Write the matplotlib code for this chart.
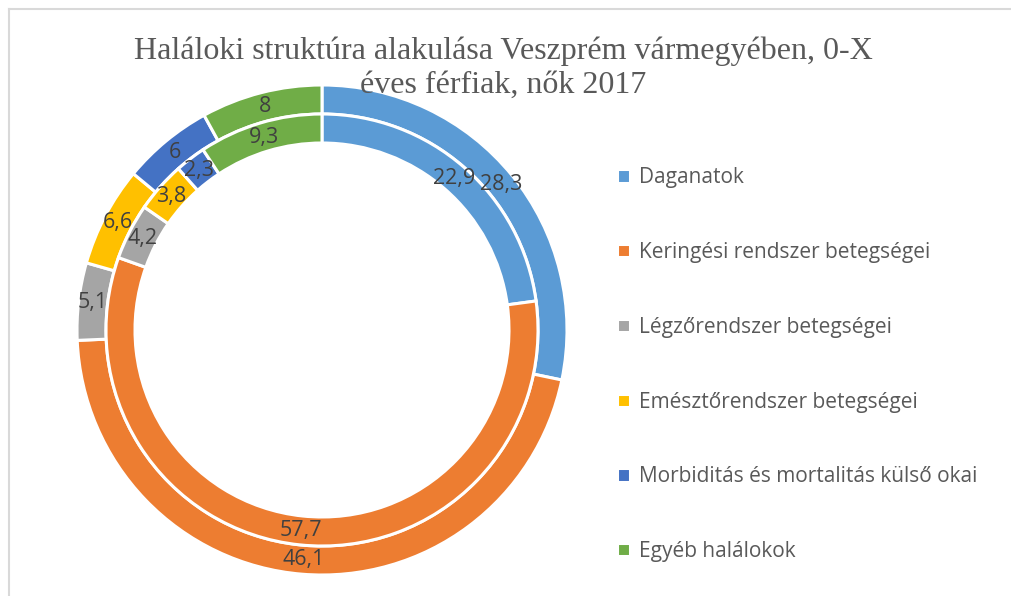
import matplotlib.pyplot as plt
import numpy as np

# data (outer ring and inner ring)
categories = [
    "Daganatok",
    "Keringési rendszer betegségei",
    "Légzőrendszer betegségei",
    "Emésztőrendszer betegségei",
    "Morbiditás és mortalitás külső okai",
    "Egyéb halálokok",
]
outer_values = [28.3, 46.1, 5.1, 6.6, 6.0, 8.0]
inner_values = [22.9, 57.7, 4.2, 3.8, 2.3, 9.3]
colors = ["#5B9BD5", "#ED7D31", "#A5A5A5", "#FFC000", "#4472C4", "#70AD47"]

W, H = 1012, 596


def fmt(v):
    s = ("%.1f" % v).rstrip("0").rstrip(".")
    return s.replace(".", ",")


def draw_chart():
    fig = plt.figure(figsize=(W / 100, H / 100), dpi=100)

    # frame of the chart area (only top and left visible)
    fig.add_artist(plt.Line2D([9.5 / W, 9.5 / W], [0, 1 - 8.5 / H], color="#D9D9D9",
                              lw=1.5, transform=fig.transFigure))
    fig.add_artist(plt.Line2D([9.5 / W, 1], [1 - 8.5 / H, 1 - 8.5 / H], color="#D9D9D9",
                              lw=1.5, transform=fig.transFigure))

    # text cut off at the top of the picture
    fig.text(10 / W, 1 - 0.5 / H, "2014-2018", fontsize=22, family="Liberation Serif",
             fontweight="bold", color="black", ha="left", va="baseline")

    # doughnut: center (322, 330) px, outer radius 245 px
    cx, cy, R = 322, 330, 245
    ax = fig.add_axes([(cx - R) / W, (H - cy - R) / H, 2 * R / W, 2 * R / H])

    ring = 29 / R
    r_inner = 1 - ring
    wp = dict(width=ring, edgecolor="white", linewidth=2.2)

    outer, _ = ax.pie(outer_values, radius=1, colors=colors, startangle=90,
                      counterclock=False, wedgeprops=wp)
    inner, _ = ax.pie(inner_values, radius=r_inner, colors=colors, startangle=90,
                      counterclock=False, wedgeprops=wp)
    ax.set_xlim(-1, 1)
    ax.set_ylim(-1, 1)
    ax.set_aspect("equal")
    ax.axis("off")

    for wedges, vals, rmid in [(outer, outer_values, 1 - ring / 2),
                               (inner, inner_values, r_inner - ring / 2)]:
        for w, v in zip(wedges, vals):
            ang = np.deg2rad((w.theta1 + w.theta2) / 2)
            ax.text(rmid * np.cos(ang), rmid * np.sin(ang), fmt(v),
                    ha="center", va="center", fontsize=15.5, color="#404040",
                    family="Open Sans")

    # title (baseline of the second line)
    fig.text(503 / W, 1 - 93 / H, "Haláloki struktúra alakulása Veszprém vármegyében, 0-X\néves férfiak, nők 2017",
             ha="center", va="baseline", fontsize=23, family="Liberation Serif",
             color="#595959", linespacing=1.25)

    leg = fig.legend(outer, categories, loc="upper left",
                     bbox_to_anchor=(607 / W, 1 - 157 / H), frameon=False,
                     handlelength=0.6, handleheight=0.6, handletextpad=0.45,
                     labelspacing=2.58, borderpad=0,
                     prop={"family": "Open Sans", "size": 15})
    for t in leg.get_texts():
        t.set_color("#595959")

    fig.savefig("out.png", dpi=100)


draw_chart()
